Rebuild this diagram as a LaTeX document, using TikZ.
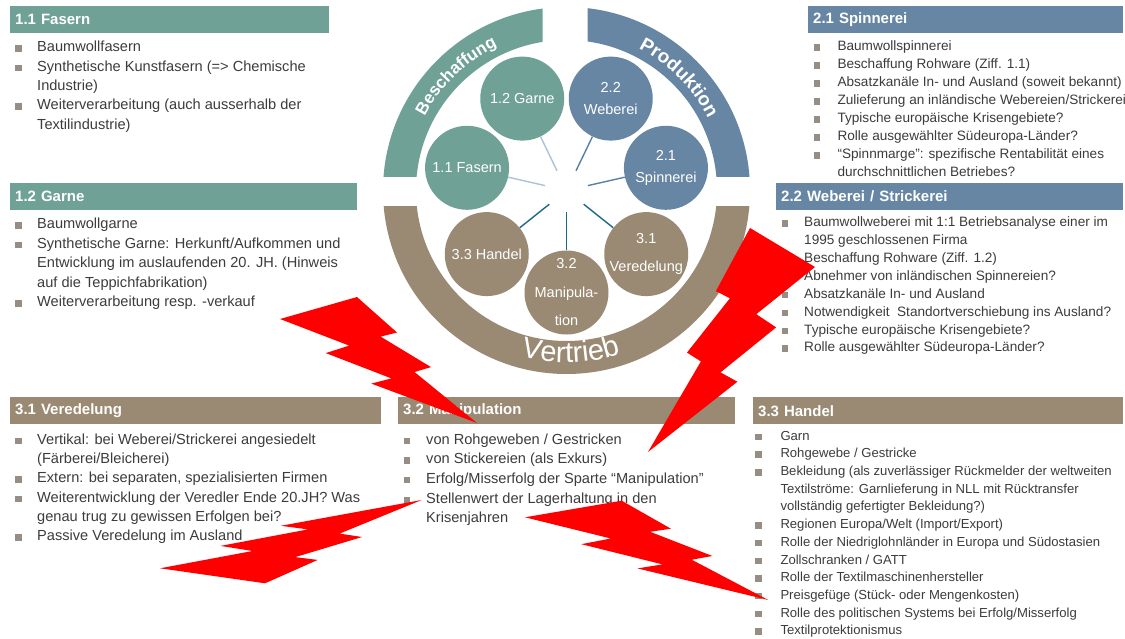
\documentclass[tikz,border=0pt]{standalone}
\usepackage{fontspec}
\setmainfont{Liberation Sans}
\usetikzlibrary{positioning,calc,decorations.text}

\definecolor{beschaffung}{RGB}{111,161,151}
\definecolor{produktion}{RGB}{103,134,164}
\definecolor{vertrieb}{RGB}{154,138,115}
\definecolor{bulletgray}{RGB}{150,142,133}
\definecolor{bodytext}{RGB}{60,60,60}
\definecolor{spokelight}{RGB}{172,194,214}
\definecolor{spokemid}{RGB}{88,128,164}
\definecolor{spokedark}{RGB}{28,104,134}
\definecolor{boltred}{RGB}{255,0,0}

\newcommand{\blt}{\textcolor{bulletgray}{\rule{6.5pt}{6.5pt}}}

\begin{document}
\begin{tikzpicture}[x=1pt, y=1pt,
	headbar/.style 2 args={fill=#1, text=white, anchor=north west, inner xsep=5pt, inner ysep=0pt,
		minimum height=27pt, text width=#2, font=\fontsize{15}{18}\selectfont\bfseries},
	body/.style={anchor=north west, inner sep=0pt, text=bodytext},
	stage/.style={circle, fill=#1, text=white, minimum size=84pt, inner sep=-10pt, align=center},
	spoke/.style={draw=#1, line width=1.4pt, shorten <=22pt},
	ringtext/.style={decorate, decoration={text along path, text align=center, text color=white, text={#1}}}]

	\fill[white] (0,0) rectangle (1125,-639);
	\useasboundingbox (0,0) rectangle (1125,-639);

	% the three arcs of the ring
	\coordinate (hub) at (566.5,-190.5);
	\begin{scope}
		\clip (370,0) rectangle (542.5,-177);
		\fill[beschaffung, even odd rule] (hub) circle[radius=183.5] (hub) circle[radius=150.5];
	\end{scope}
	\begin{scope}
		\clip (587.5,0) rectangle (760,-177);
		\fill[produktion, even odd rule] (hub) circle[radius=183.5] (hub) circle[radius=150.5];
	\end{scope}
	\begin{scope}
		\clip (370,-207) rectangle (760,-380);
		\fill[vertrieb, even odd rule] (hub) circle[radius=183.5] (hub) circle[radius=150.5];
	\end{scope}

	\path[ringtext={|\fontsize{17}{17}\selectfont\bfseries|Beschaffung}]
		($(hub)+(170:160)$) arc[start angle=170, end angle=98, radius=160];
	\path[ringtext={|\fontsize{19}{19}\selectfont\bfseries|Produktion}]
		($(hub)+(80:159)$) arc[start angle=80, end angle=10, radius=159];
	\path[ringtext={|\fontsize{29}{29}\selectfont|Vertrieb}]
		($(hub)+(230:172)$) arc[start angle=230, end angle=313, radius=172];

	% stages around the hub
	\node[stage=beschaffung, font=\fontsize{14.5}{18}\selectfont] (n11) at ($(hub)+(167.14:102)$) {1.1 Fasern};
	\node[stage=beschaffung, font=\fontsize{14.5}{18}\selectfont] (n12) at ($(hub)+(115.71:102)$) {1.2 Garne};
	\node[stage=produktion, font=\fontsize{14.5}{21.7}\selectfont] (n22) at ($(hub)+(64.29:102)$) {2.2\\Weberei};
	\node[stage=produktion, font=\fontsize{14.5}{21.7}\selectfont] (n21) at ($(hub)+(12.86:102)$) {2.1\\Spinnerei};
	\node[stage=vertrieb, font=\fontsize{14.5}{28.5}\selectfont] (n31) at ($(hub)+(321.43:102)$) {3.1\\Veredelung};
	\node[stage=vertrieb, font=\fontsize{14.5}{28.5}\selectfont] (n32) at ($(hub)+(270:102)$) {3.2\\Manipula-\\tion};
	\node[stage=vertrieb, font=\fontsize{14.5}{18}\selectfont] (n33) at ($(hub)+(218.57:102)$) {3.3 Handel};

	\draw[spoke=spokelight] (hub) -- (n11);
	\draw[spoke=spokelight] (hub) -- (n12);
	\draw[spoke=spokemid] (hub) -- (n22);
	\draw[spoke=spokemid] (hub) -- (n21);
	\draw[spoke=spokedark] (hub) -- (n31);
	\draw[spoke=spokedark] (hub) -- (n32);
	\draw[spoke=spokedark] (hub) -- (n33);

	% headings
	\node[headbar={beschaffung}{309pt}] (h11) at (10,-6) {1.1 Fasern};
	\node[headbar={beschaffung}{337pt}] (h12) at (10,-183) {1.2 Garne};
	\node[headbar={produktion}{305pt}] (h21) at (808,-6) {2.1 Spinnerei};
	\node[headbar={produktion}{337pt}] (h22) at (776,-183) {2.2 Weberei / Strickerei};
	\node[headbar={vertrieb}{361pt}] (h31) at (10,-397) {3.1 Veredelung};
	\node[headbar={vertrieb}{327pt}] (h32) at (398,-397) {3.2 Manipulation};
	\node[headbar={vertrieb}{360pt}] (h33) at (753,-397) {3.3 Handel};

	% bullet lists
	\node[body, font=\fontsize{14.6}{19.3}\selectfont] (b11) at (15,-38.2) {%
		\begin{tabular}{@{}l@{\hspace{15.5pt}}l@{}}
			\blt & Baumwollfasern\\
			\blt & Synthetische Kunstfasern (=> Chemische\\
			     & Industrie)\\
			\blt & Weiterverarbeitung (auch ausserhalb der\\
			     & Textilindustrie)
		\end{tabular}};
	\node[body, font=\fontsize{14.6}{19.6}\selectfont] (b12) at (15,-214.6) {%
		\begin{tabular}{@{}l@{\hspace{15.5pt}}l@{}}
			\blt & Baumwollgarne\\
			\blt & Synthetische Garne: Herkunft/Aufkommen und\\
			     & Entwicklung im auslaufenden 20. JH. (Hinweis\\
			     & auf die Teppichfabrikation)\\
			\blt & Weiterverarbeitung resp. -verkauf
		\end{tabular}};
	\node[body, font=\fontsize{13.6}{18}\selectfont] (b21) at (813.3,-38.1) {%
		\begin{tabular}{@{}l@{\hspace{17.5pt}}l@{}}
			\blt & Baumwollspinnerei\\
			\blt & Beschaffung Rohware (Ziff. 1.1)\\
			\blt & Absatzkanäle In- und Ausland (soweit bekannt)\\
			\blt & Zulieferung an inländische Webereien/Strickerei\\
			\blt & Typische europäische Krisengebiete?\\
			\blt & Rolle ausgewählter Südeuropa-Länder?\\
			\blt & “Spinnmarge”: spezifische Rentabilität eines\\
			     & durchschnittlichen Betriebes?
		\end{tabular}};
	\node[body, font=\fontsize{13.6}{17.86}\selectfont] (b22) at (781.7,-214.2) {%
		\begin{tabular}{@{}l@{\hspace{15.8pt}}l@{}}
			\blt & Baumwollweberei mit 1:1 Betriebsanalyse einer im\\
			     & 1995 geschlossenen Firma\\
			\blt & Beschaffung Rohware (Ziff. 1.2)\\
			\blt & Abnehmer von inländischen Spinnereien?\\
			\blt & Absatzkanäle In- und Ausland\\
			\blt & Notwendigkeit\ \ Standortverschiebung ins Ausland?\\
			\blt & Typische europäische Krisengebiete?\\
			\blt & Rolle ausgewählter Südeuropa-Länder?
		\end{tabular}};
	\node[body, font=\fontsize{14.6}{19.3}\selectfont] (b31) at (15,-430.5) {%
		\begin{tabular}{@{}l@{\hspace{15.5pt}}l@{}}
			\blt & Vertikal: bei Weberei/Strickerei angesiedelt\\
			     & (Färberei/Bleicherei)\\
			\blt & Extern: bei separaten, spezialisierten Firmen\\
			\blt & Weiterentwicklung der Veredler Ende 20.JH? Was\\
			     & genau trug zu gewissen Erfolgen bei?\\
			\blt & Passive Veredelung im Ausland
		\end{tabular}};
	\node[body, font=\fontsize{14.6}{19.6}\selectfont] (b32) at (403.3,-430.3) {%
		\begin{tabular}{@{}l@{\hspace{16.2pt}}l@{}}
			\blt & von Rohgeweben / Gestricken\\
			\blt & von Stickereien (als Exkurs)\\
			\blt & Erfolg/Misserfolg der Sparte “Manipulation”\\
			\blt & Stellenwert der Lagerhaltung in den\\
			     & Krisenjahren
		\end{tabular}};
	\node[body, font=\fontsize{13.1}{17.7}\selectfont] (b33) at (755,-427.6) {%
		\begin{tabular}{@{}l@{\hspace{18.8pt}}l@{}}
			\blt & Garn\\
			\blt & Rohgewebe / Gestricke\\
			\blt & Bekleidung (als zuverlässiger Rückmelder der weltweiten\\
			     & Textilströme: Garnlieferung in NLL mit Rücktransfer\\
			     & vollständig gefertigter Bekleidung?)\\
			\blt & Regionen Europa/Welt (Import/Export)\\
			\blt & Rolle der Niedriglohnländer in Europa und Südostasien\\
			\blt & Zollschranken / GATT\\
			\blt & Rolle der Textilmaschinenhersteller\\
			\blt & Preisgefüge (Stück- oder Mengenkosten)\\
			\blt & Rolle des politischen Systems bei Erfolg/Misserfolg\\
			\blt & Textilprotektionismus
		\end{tabular}};

	% lightning bolts on top
	\fill[boltred] (357.0,-297.0) -- (397.0,-332.5) -- (380.6,-336.6) -- (431.0,-367.1) -- (414.5,-372.0)
		-- (477.0,-423.0) -- (371.3,-383.6) -- (391.4,-378.4) -- (325.8,-353.1) -- (349.2,-345.6) -- (280.0,-319.0) -- cycle;
	\fill[boltred] (750.0,-228.0) -- (715.9,-291.1) -- (729.9,-298.3) -- (687.0,-352.6) -- (700.9,-361.4)
		-- (648.0,-452.0) -- (737.4,-381.7) -- (720.5,-372.4) -- (776.1,-327.4) -- (756.3,-314.2) -- (815.0,-267.0) -- cycle;
	\fill[boltred] (265.0,-583.3) -- (317.7,-559.9) -- (295.2,-557.1) -- (362.1,-537.0) -- (339.6,-533.6)
		-- (421.7,-500.0) -- (280.8,-525.8) -- (308.1,-529.4) -- (220.5,-545.9) -- (252.5,-551.0) -- (160.0,-568.3) -- cycle;
	\fill[boltred] (621.7,-500.7) -- (670.9,-528.7) -- (650.2,-531.8) -- (712.4,-556.0) -- (691.7,-559.7)
		-- (768.3,-600.0) -- (637.4,-568.4) -- (662.6,-564.4) -- (581.3,-544.2) -- (610.8,-538.5) -- (525.0,-517.3) -- cycle;
\end{tikzpicture}
\end{document}
